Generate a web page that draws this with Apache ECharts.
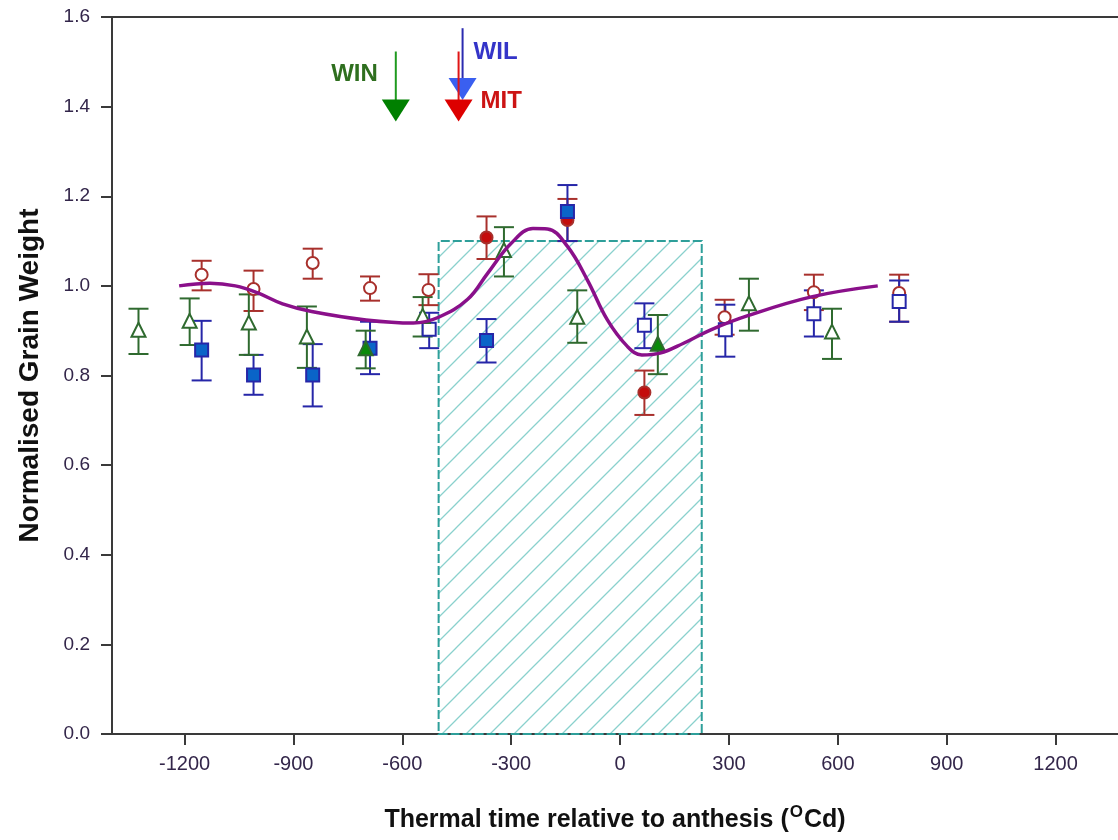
<!DOCTYPE html>
<html lang="en">
<head>
    <meta charset="UTF-8">
    <title>Normalised Grain Weight</title>
    <script src="https://cdn.jsdelivr.net/npm/echarts@6/dist/echarts.min.js"></script>
    <style>
        html, body { margin: 0; padding: 0; background: #fff; }
        #main { width: 1118px; height: 840px; }
    </style>
</head>
<body>
<div id="main"></div>
<script>
    // x tick labels
    var xTicks = [-1200, -900, -600, -300, 0, 300, 600, 900, 1200];

    // WIN (green triangles)
    var winX = [-1327, -1186, -1023, -863, -701, -544, -320, -118, 104, 355, 584];
    var winY = [0.902, 0.922, 0.918, 0.887, 0.861, 0.933, 1.080, 0.931, 0.871, 0.961, 0.898];
    var winHi = [0.949, 0.972, 0.981, 0.954, 0.900, 0.975, 1.131, 0.990, 0.935, 1.016, 0.949];
    var winLo = [0.848, 0.868, 0.846, 0.817, 0.816, 0.887, 1.021, 0.873, 0.803, 0.900, 0.837];
    var winFilled = [0, 0, 0, 0, 1, 0, 0, 0, 1, 0, 0];

    // MIT (red circles)
    var mitX = [-1153, -1010, -847, -689, -528, -368, -145, 67, 288, 534, 769];
    var mitY = [1.025, 0.993, 1.051, 0.995, 0.991, 1.108, 1.147, 0.762, 0.930, 0.986, 0.984];
    var mitHi = [1.056, 1.034, 1.083, 1.021, 1.026, 1.155, 1.194, 0.811, 0.969, 1.025, 1.025];
    var mitLo = [0.990, 0.944, 1.016, 0.967, 0.957, 1.060, 1.100, 0.712, 0.891, 0.946, 0.920];
    var mitFilled = [0, 0, 0, 0, 0, 1, 1, 1, 0, 0, 0];

    // WIL (blue squares)
    var wilX = [-1153, -1010, -847, -689, -526, -368, -145, 67, 290, 534, 769];
    var wilY = [0.857, 0.801, 0.801, 0.861, 0.903, 0.878, 1.166, 0.912, 0.902, 0.938, 0.965];
    var wilHi = [0.922, 0.846, 0.870, 0.920, 0.940, 0.926, 1.225, 0.961, 0.958, 0.990, 1.012];
    var wilLo = [0.789, 0.757, 0.731, 0.803, 0.861, 0.829, 1.100, 0.861, 0.842, 0.887, 0.920];
    var wilFilled = [1, 1, 1, 1, 0, 1, 1, 0, 0, 0, 0];

    // fitted curve
    var curveX = [-1215, -1130, -1060, -1000, -930, -850, -700, -570, -500, -420, -365, -300, -240, -200, -145, -90, -35, 20, 60, 110, 175, 250, 350, 530, 710];
    var curveY = [1.000, 1.006, 1.000, 0.985, 0.960, 0.943, 0.924, 0.917, 0.930, 0.970, 1.028, 1.095, 1.128, 1.127, 1.088, 1.013, 0.924, 0.865, 0.846, 0.850, 0.872, 0.902, 0.933, 0.976, 1.000];

    // shaded window
    var windowX = [-500, 225];
    var windowTop = 1.1;

    // arrows marking the three cultivars
    var arrowNames = ['WIN', 'WIL', 'MIT'];
    var arrowX = [-618, -434, -445];
    var arrowTop = [1.523, 1.575, 1.523];
    var arrowTip = [1.367, 1.415, 1.367];
    var arrowLabelY = [1.471, 1.522, 1.411];

    var arrowStyle = [
        {line: '#1f9a1f', head: '#008000', text: '#2f6f1f', dx: -18, align: 'right'},
        {line: '#2b2bb0', head: '#3a5ff0', text: '#3434c8', dx: 11, align: 'left'},
        {line: '#e01515', head: '#dd0000', text: '#cc1414', dx: 22, align: 'left'}
    ];

    var FONT = '"Liberation Sans", Arial, sans-serif';

    // hatch pattern for the shaded window
    var hatch = document.createElement('canvas');
    hatch.width = 24;
    hatch.height = 24;
    var hc = hatch.getContext('2d');
    hc.strokeStyle = '#8ad1cd';
    hc.lineWidth = 1.3;
    hc.beginPath();
    hc.moveTo(0, 24); hc.lineTo(24, 0);
    hc.moveTo(-2, 2); hc.lineTo(2, -2);
    hc.moveTo(22, 26); hc.lineTo(26, 22);
    hc.stroke();

    function errorBars(name, xs, lo, hi, color) {
        return {
            type: 'custom',
            name: name + ' err',
            z: 3,
            silent: true,
            renderItem: function (params, api) {
                var x = api.value(0);
                var pLo = api.coord([x, api.value(1)]);
                var pHi = api.coord([x, api.value(2)]);
                var cap = 10;
                var st = {stroke: color, lineWidth: 2};
                return {
                    type: 'group',
                    children: [
                        {type: 'line', shape: {x1: pLo[0], y1: pLo[1], x2: pHi[0], y2: pHi[1]}, style: st},
                        {type: 'line', shape: {x1: pLo[0] - cap, y1: pLo[1], x2: pLo[0] + cap, y2: pLo[1]}, style: st},
                        {type: 'line', shape: {x1: pHi[0] - cap, y1: pHi[1], x2: pHi[0] + cap, y2: pHi[1]}, style: st}
                    ]
                };
            },
            data: xs.map(function (x, i) { return [x, lo[i], hi[i]]; })
        };
    }

    function markers(name, xs, ys, filled, symbol, size, edge, fill, z) {
        return {
            type: 'scatter',
            name: name,
            z: z,
            symbol: symbol,
            symbolSize: size,
            data: xs.map(function (x, i) {
                return {
                    value: [x, ys[i]],
                    itemStyle: {
                        color: filled[i] ? fill : '#ffffff',
                        borderColor: edge,
                        borderWidth: 2,
                        opacity: 1
                    }
                };
            })
        };
    }

    var chart = echarts.init(document.getElementById('main'));

    var option = {
        backgroundColor: '#ffffff',
        animation: false,
        grid: {
            left: 112,
            right: 0,
            top: 17,
            bottom: 106,
            outerBoundsMode: 'none'
        },
        xAxis: [{
            type: 'value',
            min: -1400,
            max: 1372,
            name: '{t|Thermal time relative to anthesis (}{s|O}{t|Cd)}',
            nameLocation: 'middle',
            nameGap: 70,
            nameTextStyle: {
                rich: {
                    t: {fontFamily: FONT, fontWeight: 'bold', fontSize: 25, color: '#111'},
                    s: {fontFamily: FONT, fontWeight: 'bold', fontSize: 17, color: '#111', padding: [0, 1, 16, 1]}
                }
            },
            splitLine: {show: false},
            axisLine: {onZero: false, lineStyle: {color: '#3a3a3a', width: 2}},
            axisTick: {
                customValues: xTicks,
                length: 11,
                lineStyle: {color: '#3a3a3a', width: 2}
            },
            axisLabel: {
                customValues: xTicks,
                margin: 20,
                fontFamily: FONT,
                fontSize: 20,
                color: '#33264a',
                formatter: function (v) { return String(v); }
            }
        }, {
            type: 'value',
            position: 'top',
            min: -1400,
            max: 1372,
            splitLine: {show: false},
            axisLine: {show: true, onZero: false, lineStyle: {color: '#3a3a3a', width: 2}},
            axisTick: {show: false},
            axisLabel: {show: false}
        }],
        yAxis: {
            type: 'value',
            min: 0,
            max: 1.6,
            interval: 0.2,
            name: 'Normalised Grain Weight',
            nameLocation: 'middle',
            nameGap: 68,
            nameTextStyle: {fontFamily: FONT, fontWeight: 'bold', fontSize: 28, color: '#111'},
            splitLine: {show: false},
            axisLine: {show: true, onZero: false, lineStyle: {color: '#3a3a3a', width: 2}},
            axisTick: {show: true, length: 11, lineStyle: {color: '#3a3a3a', width: 2}},
            axisLabel: {
                margin: 22,
                fontFamily: FONT,
                fontSize: 19,
                color: '#33264a',
                formatter: function (v) { return v.toFixed(1); }
            }
        },
        series: [
            {
                type: 'line',
                name: 'window',
                data: [],
                z: 1,
                markArea: {
                    silent: true,
                    itemStyle: {
                        color: {image: hatch, repeat: 'repeat'},
                        borderColor: '#2e9f9a',
                        borderWidth: 2,
                        borderType: [9, 3]
                    },
                    data: [[{xAxis: windowX[0], yAxis: 0}, {xAxis: windowX[1], yAxis: windowTop}]]
                }
            },
            errorBars('MIT', mitX, mitLo, mitHi, '#a8302c'),
            markers('MIT', mitX, mitY, mitFilled, 'circle', 12, '#a8302c', '#c40c0c', 4),
            errorBars('WIL', wilX, wilLo, wilHi, '#2626a8'),
            markers('WIL', wilX, wilY, wilFilled, 'rect', 13, '#2626a8', '#0a64c8', 6),
            errorBars('WIN', winX, winLo, winHi, '#2f6a2f'),
            markers('WIN', winX, winY, winFilled, 'triangle', 14, '#2f6a2f', '#0a8a0a', 8),
            {
                type: 'line',
                name: 'fit',
                z: 10,
                smooth: 0.4,
                symbol: 'none',
                lineStyle: {color: '#8a108a', width: 3.5},
                data: curveX.map(function (x, i) { return [x, curveY[i]]; })
            },
            {
                type: 'custom',
                name: 'arrows',
                z: 12,
                silent: true,
                renderItem: function (params, api) {
                    var i = params.dataIndex;
                    var s = arrowStyle[i];
                    var pTop = api.coord([api.value(0), api.value(1)]);
                    var pTip = api.coord([api.value(0), api.value(2)]);
                    var pLab = api.coord([api.value(0), api.value(3)]);
                    var hw = 14, hh = 22;
                    return {
                        type: 'group',
                        children: [
                            {
                                type: 'line',
                                shape: {x1: pTop[0], y1: pTop[1], x2: pTip[0], y2: pTip[1] - hh + 2},
                                style: {stroke: s.line, lineWidth: 2}
                            },
                            {
                                type: 'polygon',
                                shape: {points: [[pTip[0] - hw, pTip[1] - hh], [pTip[0] + hw, pTip[1] - hh], [pTip[0], pTip[1]]]},
                                style: {fill: s.head}
                            },
                            {
                                type: 'text',
                                x: pTip[0] + s.dx,
                                y: pLab[1],
                                style: {
                                    text: arrowNames[i],
                                    fill: s.text,
                                    font: 'bold 24px ' + FONT,
                                    align: s.align,
                                    verticalAlign: 'middle'
                                }
                            }
                        ]
                    };
                },
                data: arrowX.map(function (x, i) { return [x, arrowTop[i], arrowTip[i], arrowLabelY[i]]; })
            }
        ]
    };

    chart.setOption(option);

    window.addEventListener('resize', function () {
        chart.resize();
    });
</script>
</body>
</html>
